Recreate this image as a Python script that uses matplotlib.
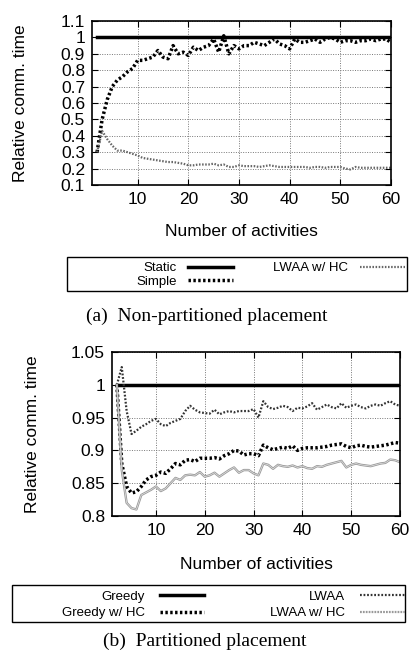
import matplotlib
matplotlib.use("Agg")
import matplotlib.pyplot as plt
from matplotlib.patches import Rectangle
from matplotlib.ticker import FuncFormatter

plt.rcParams['font.family'] = ['Liberation Sans', 'DejaVu Sans']

activities = list(range(2, 61))

# (a) non-partitioned placement
static = [1.0] * len(activities)
simple = [0.30, 0.50, 0.62, 0.70, 0.74, 0.76, 0.79, 0.81, 0.86, 0.86,
          0.87, 0.88, 0.92, 0.88, 0.87, 0.95, 0.90, 0.91, 0.89, 0.94,
          0.92, 0.94, 0.95, 0.99, 0.91, 1.01, 0.90, 0.95, 0.93, 0.95,
          0.95, 0.97, 0.96, 0.95, 0.97, 0.99, 0.96, 0.95, 0.93, 0.99,
          0.97, 0.97, 0.98, 0.99, 0.97, 0.99, 1.00, 0.99, 0.97, 0.98,
          0.98, 0.97, 0.98, 0.98, 0.99, 0.98, 0.99, 0.99, 0.97]
lwaa_hc_a = [0.30, 0.43, 0.38, 0.34, 0.31, 0.31, 0.30, 0.29, 0.28, 0.265,
             0.26, 0.255, 0.25, 0.245, 0.24, 0.24, 0.235, 0.23, 0.22, 0.22,
             0.225, 0.225, 0.225, 0.23, 0.22, 0.225, 0.21, 0.21, 0.22, 0.215,
             0.215, 0.215, 0.21, 0.215, 0.22, 0.215, 0.21, 0.21, 0.21, 0.21,
             0.21, 0.21, 0.205, 0.21, 0.21, 0.205, 0.21, 0.21, 0.21, 0.20,
             0.195, 0.21, 0.205, 0.205, 0.205, 0.205, 0.205, 0.205, 0.205]

# (b) partitioned placement
greedy = [1.0] * len(activities)
greedy_hc = [1.0, 0.88, 0.845, 0.835, 0.837, 0.845, 0.855, 0.86, 0.862, 0.867,
             0.865, 0.872, 0.88, 0.878, 0.885, 0.886, 0.883, 0.888, 0.888, 0.888,
             0.889, 0.887, 0.892, 0.895, 0.90, 0.899, 0.893, 0.895, 0.895, 0.892,
             0.908, 0.904, 0.901, 0.903, 0.905, 0.903, 0.907, 0.90, 0.903, 0.904,
             0.904, 0.904, 0.905, 0.906, 0.908, 0.909, 0.91, 0.906, 0.904, 0.907,
             0.908, 0.906, 0.905, 0.906, 0.907, 0.908, 0.91, 0.912, 0.911]
lwaa = [1.0, 1.027, 0.96, 0.925, 0.93, 0.936, 0.94, 0.945, 0.948, 0.94,
        0.937, 0.942, 0.945, 0.948, 0.96, 0.968, 0.962, 0.958, 0.957, 0.956,
        0.962, 0.955, 0.958, 0.96, 0.958, 0.96, 0.96, 0.96, 0.963, 0.95,
        0.975, 0.966, 0.963, 0.965, 0.968, 0.966, 0.96, 0.965, 0.964, 0.967,
        0.972, 0.962, 0.966, 0.97, 0.966, 0.964, 0.972, 0.965, 0.968, 0.97,
        0.966, 0.964, 0.968, 0.97, 0.968, 0.972, 0.975, 0.97, 0.968]
lwaa_hc_b = [1.0, 0.87, 0.82, 0.812, 0.81, 0.832, 0.836, 0.84, 0.845, 0.838,
             0.842, 0.85, 0.858, 0.855, 0.862, 0.863, 0.862, 0.867, 0.86, 0.862,
             0.866, 0.86, 0.865, 0.87, 0.874, 0.866, 0.87, 0.87, 0.865, 0.862,
             0.88, 0.878, 0.872, 0.878, 0.876, 0.875, 0.877, 0.874, 0.876, 0.873,
             0.872, 0.876, 0.875, 0.878, 0.88, 0.882, 0.884, 0.874, 0.878, 0.88,
             0.878, 0.877, 0.876, 0.878, 0.88, 0.881, 0.886, 0.885, 0.882]

fmt = FuncFormatter(lambda v, p: '%g' % v)


def style_axes(ax, yticks):
    ax.set_xlim(1, 60)
    ax.set_xticks([10, 20, 30, 40, 50, 60])
    ax.set_yticks(yticks)
    ax.set_ylim(yticks[0], yticks[-1])
    ax.yaxis.set_major_formatter(fmt)
    ax.grid(True, color='#777777', linestyle=(0, (1, 1.5)), linewidth=0.7)
    ax.tick_params(direction='in', top=True, right=True, length=4,
                   labelsize=12.5, pad=5)
    for s in ax.spines.values():
        s.set_linewidth(1.2)
    ax.set_xlabel('Number of activities', fontsize=12.5)
    ax.set_ylabel('Relative comm. time', fontsize=12.5)


fig = plt.figure(figsize=(4.09, 6.58), dpi=100)

# top plot
ax1 = fig.add_axes([92 / 409, 1 - 185 / 658, 299 / 409, 164 / 658])
l1, = ax1.plot(activities, static, color='black', lw=2.5, label='Static')
l2, = ax1.plot(activities, simple, color='black', lw=2.5,
               linestyle=(0, (0.7, 0.7)), label='Simple')
l3, = ax1.plot(activities, lwaa_hc_a, color='#666666', lw=1.6,
               linestyle=(0, (0.7, 0.7)), label='LWAA w/ HC')
style_axes(ax1, [0.1, 0.2, 0.3, 0.4, 0.5, 0.6, 0.7, 0.8, 0.9, 1.0, 1.1])
ax1.xaxis.set_label_coords(0.5, -0.24)
ax1.yaxis.set_label_coords(-0.215, 0.5)

fig.legend([l1, l2, l3], ['Static', 'Simple', 'LWAA w/ HC'], ncol=2,
           loc='center left', bbox_to_anchor=(136 / 409, 1 - 275 / 658),
           frameon=False, markerfirst=False, fontsize=9.5,
           handlelength=3.4, handletextpad=0.9, columnspacing=3.0,
           labelspacing=0.1, borderpad=0, borderaxespad=0)
fig.patches.append(Rectangle((67 / 409, 1 - 291 / 658), 340 / 409, 34 / 658,
                             transform=fig.transFigure, fill=False,
                             edgecolor='black', lw=1))
fig.text(207 / 409, 1 - 316 / 658, '(a)  Non-partitioned placement',
         family='Liberation Serif', fontsize=14, ha='center', va='center')

# bottom plot
ax2 = fig.add_axes([112 / 409, 1 - 516 / 658, 288 / 409, 164 / 658])
m1, = ax2.plot(activities, greedy, color='black', lw=2.5, label='Greedy')
m2, = ax2.plot(activities, greedy_hc, color='black', lw=2.5,
               linestyle=(0, (0.7, 0.7)), label='Greedy w/ HC')
m3, = ax2.plot(activities, lwaa, color='#333333', lw=1.6,
               linestyle=(0, (0.8, 0.8)), label='LWAA')
m4, = ax2.plot(activities, lwaa_hc_b, color='#999999', lw=1.7,
               label='LWAA w/ HC')
ax2.plot(activities, lwaa_hc_b, color='#e4e4e4', lw=0.5)
style_axes(ax2, [0.8, 0.85, 0.9, 0.95, 1.0, 1.05])
ax2.xaxis.set_label_coords(0.5, -0.25)
ax2.yaxis.set_label_coords(-0.25, 0.5)

m4_leg = plt.Line2D([], [], color='#999999', lw=1.6, linestyle=(0, (0.8, 0.5)))
fig.legend([m1, m2, m3, m4_leg], ['Greedy', 'Greedy w/ HC', 'LWAA', 'LWAA w/ HC'],
           ncol=2, loc='center left', bbox_to_anchor=(62 / 409, 1 - 605 / 658),
           frameon=False, markerfirst=False, fontsize=9.5,
           handlelength=3.4, handletextpad=1.1, columnspacing=5.0,
           labelspacing=0.3, borderpad=0, borderaxespad=0)
fig.patches.append(Rectangle((12 / 409, 1 - 622 / 658), 393 / 409, 37 / 658,
                             transform=fig.transFigure, fill=False,
                             edgecolor='black', lw=1))
fig.text(205 / 409, 1 - 641 / 658, '(b)  Partitioned placement',
         family='Liberation Serif', fontsize=14, ha='center', va='center')

fig.savefig('out.png', dpi=100)
